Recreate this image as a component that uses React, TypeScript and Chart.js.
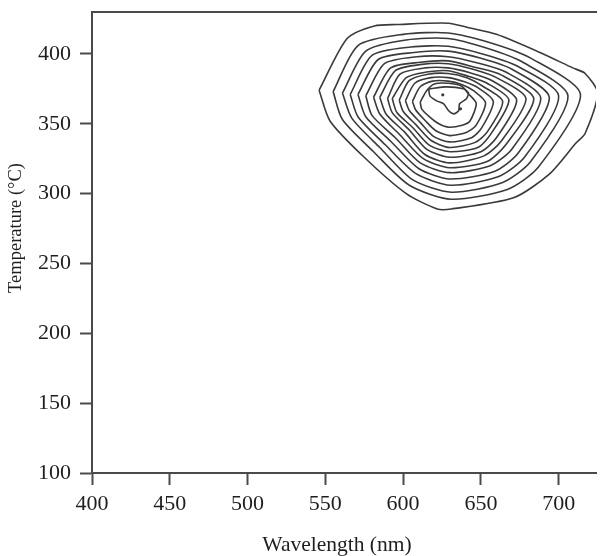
import { useEffect, useRef } from "react";
import { Chart, registerables } from "chart.js";

Chart.register(...registerables);

// Axis ranges and tick labels
const wavelengthRange: [number, number] = [400, 724];
const temperatureRange: [number, number] = [100, 430];
const wavelengthTicks = [400, 450, 500, 550, 600, 650, 700];
const temperatureTicks = [100, 150, 200, 250, 300, 350, 400];
const xAxisTitle = "Wavelength (nm)";
const yAxisTitle = "Temperature (°C)";

type Pt = [number, number]; // [wavelength nm, temperature °C]

// Iso-intensity contour lines, outermost first
const level01: Pt[] = [[546, 374], [564, 411], [581.5, 420], [596, 421], [629, 422], [643, 418.5], [660, 414], [688, 401], [709, 390], [717, 386], [725, 372], [717, 343], [711, 336], [694, 314], [671, 297], [631, 289], [622, 289], [602, 300], [575, 326], [553, 352]];
const level02: Pt[] = [[555, 373], [571, 406], [600, 414], [629, 415], [656, 408], [682, 397], [714, 371], [687, 319], [667, 303], [631, 296], [604, 306], [581, 330], [561, 353]];
const level03: Pt[] = [[561, 372], [576, 402], [602, 410], [629, 411], [654, 404], [677, 394], [706, 370], [682, 323], [664, 308], [631, 301], [606, 310], [585, 333], [567, 354]];
const level04: Pt[] = [[566, 371], [580, 399], [605, 405], [629, 405.5], [651, 400], [673, 391.5], [700, 370], [678, 326], [661, 312], [630.5, 306], [608, 314.5], [588.5, 335], [571, 355]];
const level05: Pt[] = [[571, 371], [584, 396], [607, 401], [629, 402], [649.5, 397], [670, 389], [694, 369], [674, 329], [659, 316], [630, 310.5], [610, 318], [592, 337.5], [576, 355]];
const level06: Pt[] = [[576, 370], [588, 393], [609, 398], [629, 398], [648, 393.5], [666, 387], [688.5, 368.5], [670, 332], [656, 320], [630, 315], [611, 322], [595, 340], [580, 356]];
const level07: Pt[] = [[581, 369], [592, 390], [611, 394], [629, 395], [646, 390.5], [663, 385], [684, 368], [666, 335], [654, 323], [630, 318.5], [613, 325], [598, 342], [585, 357]];
const level08: Pt[] = [[585, 369], [595, 388], [612, 392.5], [629, 393], [645, 389], [660, 383], [679, 368], [663, 337.5], [652, 327], [630, 322], [614, 328], [601, 344], [589, 357]];
const level09: Pt[] = [[590, 368], [598, 385.5], [614, 390], [629, 390], [643, 386.5], [657, 381], [673, 367], [660, 340], [650, 330], [630, 326], [615.5, 331.5], [604, 345.5], [593, 358]];
const level10: Pt[] = [[593, 368], [602, 383], [615, 387], [629, 388], [642, 384], [654, 379], [668, 367], [656, 342], [648, 333], [630, 330], [617, 334.5], [606, 347.5], [596, 358]];
const level11: Pt[] = [[597.5, 367], [604, 381], [616, 385.5], [629, 386], [641, 383], [651, 377], [664, 366], [654, 344], [646, 336.5], [630, 333], [618, 338], [608.5, 349], [600, 359]];
const level12: Pt[] = [[601.5, 366.5], [607.5, 379], [618, 383], [629, 383], [639.5, 380], [648.5, 375.5], [658, 366], [650.5, 347], [644, 340], [630, 337], [619.5, 341], [611, 351], [604, 359.5]];
const level13: Pt[] = [[606, 366], [611, 376.5], [619, 380.5], [629, 380.5], [638, 378], [645.5, 373.5], [653, 365], [647, 349], [641, 344], [630, 341.5], [621, 345], [614, 352.5], [608, 360]];
const level14: Pt[] = [[611, 365.5], [615, 373.5], [620, 378.5], [629, 379], [637.5, 377], [642, 371.5], [647, 364.5], [643, 352], [638, 349], [629.5, 347.5], [623, 350], [617, 355], [612, 360.5]];
const peakLevel: Pt[] = [[616.5, 375], [628, 376.4], [638.8, 375], [642, 372.1], [640.7, 367.9], [636.3, 364.3], [635.7, 359.3], [632.5, 357.1], [629.3, 359.3], [626.1, 364.3], [621.6, 366.4], [617.2, 370]];
const peakSpots: Pt[] = [[625.5, 370.7], [636.9, 360.7]];

const contourLevels = [level01, level02, level03, level04, level05, level06, level07, level08, level09, level10, level11, level12, level13, level14, peakLevel];

const FONT = "'Liberation Serif', 'Times New Roman', serif";
const AXIS = "#4a4a4a";
const INK = "#1e1e1e";
const LINE = "#3a3a3a";

// Axis captions, placed relative to the plot frame
const axisCaptions = {
  id: "axisCaptions",
  afterDraw(chart: any) {
    const { ctx, chartArea } = chart;
    ctx.save();
    ctx.fillStyle = INK;
    ctx.textAlign = "center";
    ctx.textBaseline = "middle";
    ctx.font = `21.5px ${FONT}`;
    ctx.fillText(xAxisTitle, chartArea.left + 245, chartArea.bottom + 72);
    ctx.translate(16, chartArea.top + 216);
    ctx.rotate(-Math.PI / 2);
    ctx.font = `18.5px ${FONT}`;
    ctx.fillText(yAxisTitle, 0, 0);
    ctx.restore();
  },
};

export default function App() {
  const canvasRef = useRef<HTMLCanvasElement | null>(null);

  useEffect(() => {
    const canvas = canvasRef.current;
    if (!canvas) return;

    const lineSets = contourLevels.map((ring) => ({
      data: [...ring, ring[0]].map(([x, y]) => ({ x, y })),
      showLine: true,
      fill: false,
      borderColor: LINE,
      borderWidth: 1.6,
      pointRadius: 0,
      tension: 0.25,
    }));

    const spotSet = {
      data: peakSpots.map(([x, y]) => ({ x, y })),
      showLine: false,
      pointRadius: 1.6,
      pointBackgroundColor: LINE,
      pointBorderWidth: 0,
    };

    const chart = new Chart(canvas, {
      type: "scatter",
      data: { datasets: [...lineSets, spotSet] as any },
      plugins: [axisCaptions],
      options: {
        responsive: false,
        maintainAspectRatio: false,
        animation: false,
        events: [],
        layout: { padding: 0 },
        plugins: { legend: { display: false }, tooltip: { enabled: false } },
        scales: {
          x: {
            type: "linear",
            position: "bottom",
            min: wavelengthRange[0],
            max: wavelengthRange[1],
            afterBuildTicks: (s: any) => {
              s.ticks = wavelengthTicks.map((v) => ({ value: v }));
            },
            afterFit: (s: any) => {
              s.height = 83;
              s.paddingLeft = 0;
              s.paddingRight = 0;
            },
            grid: {
              drawOnChartArea: false,
              drawTicks: true,
              tickLength: 12,
              tickWidth: 2,
              tickColor: AXIS,
              color: AXIS,
            },
            border: { display: true, color: AXIS, width: 2 },
            ticks: {
              color: INK,
              font: { family: FONT, size: 22 },
              padding: 6,
              maxRotation: 0,
              autoSkip: false,
              callback: (v: any) => String(v),
            },
          },
          xTop: {
            type: "linear",
            position: "top",
            min: wavelengthRange[0],
            max: wavelengthRange[1],
            afterFit: (s: any) => {
              s.height = 12;
              s.paddingLeft = 0;
              s.paddingRight = 0;
            },
            grid: { display: false, drawTicks: false },
            ticks: { display: false },
            border: { display: true, color: AXIS, width: 2 },
          },
          y: {
            type: "linear",
            position: "left",
            min: temperatureRange[0],
            max: temperatureRange[1],
            afterBuildTicks: (s: any) => {
              s.ticks = temperatureTicks.map((v) => ({ value: v }));
            },
            afterFit: (s: any) => {
              s.width = 92;
              s.paddingTop = 0;
              s.paddingBottom = 0;
            },
            grid: {
              drawOnChartArea: false,
              drawTicks: true,
              tickLength: 12,
              tickWidth: 2,
              tickColor: AXIS,
              color: AXIS,
            },
            border: { display: true, color: AXIS, width: 2 },
            ticks: {
              color: INK,
              font: { family: FONT, size: 22 },
              padding: 9,
              autoSkip: false,
              callback: (v: any) => String(v),
            },
          },
        },
      } as any,
    });

    return () => chart.destroy();
  }, []);

  return (
    <div style={{ position: "absolute", left: 0, top: 0, width: 600, height: 556, background: "#fff" }}>
      <canvas ref={canvasRef} width={600} height={556} style={{ display: "block" }} />
    </div>
  );
}
